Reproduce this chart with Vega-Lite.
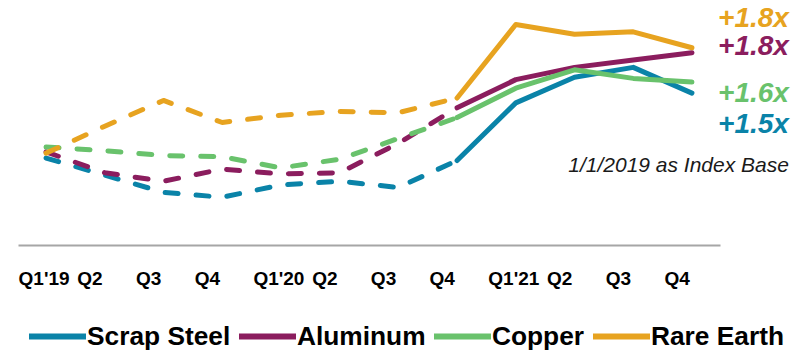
{
  "$schema": "https://vega.github.io/schema/vega-lite/v6.json",
  "width": 702,
  "height": 245,
  "autosize": {"type": "none"},
  "padding": {"left": 18, "top": 0, "right": 88, "bottom": 106},
  "background": "white",
  "config": {"view": {"stroke": null}, "font": "Liberation Sans"},
  "datasets": {
    "idx": [
      {"series": "Scrap Steel", "quarter": "Q1'19", "index": 0.95},
      {"series": "Scrap Steel", "quarter": "Q2'19", "index": 0.81},
      {"series": "Scrap Steel", "quarter": "Q3'19", "index": 0.67},
      {"series": "Scrap Steel", "quarter": "Q4'19", "index": 0.63},
      {"series": "Scrap Steel", "quarter": "Q1'20", "index": 0.73},
      {"series": "Scrap Steel", "quarter": "Q2'20", "index": 0.76},
      {"series": "Scrap Steel", "quarter": "Q3'20", "index": 0.71},
      {"series": "Scrap Steel", "quarter": "Q4'20", "index": 0.93},
      {"series": "Scrap Steel", "quarter": "Q1'21", "index": 1.40},
      {"series": "Scrap Steel", "quarter": "Q2'21", "index": 1.61},
      {"series": "Scrap Steel", "quarter": "Q3'21", "index": 1.69},
      {"series": "Scrap Steel", "quarter": "Q4'21", "index": 1.48},
      {"series": "Aluminum", "quarter": "Q1'19", "index": 1.00},
      {"series": "Aluminum", "quarter": "Q2'19", "index": 0.83},
      {"series": "Aluminum", "quarter": "Q3'19", "index": 0.76},
      {"series": "Aluminum", "quarter": "Q4'19", "index": 0.86},
      {"series": "Aluminum", "quarter": "Q1'20", "index": 0.82},
      {"series": "Aluminum", "quarter": "Q2'20", "index": 0.83},
      {"series": "Aluminum", "quarter": "Q3'20", "index": 1.07},
      {"series": "Aluminum", "quarter": "Q4'20", "index": 1.36},
      {"series": "Aluminum", "quarter": "Q1'21", "index": 1.59},
      {"series": "Aluminum", "quarter": "Q2'21", "index": 1.69},
      {"series": "Aluminum", "quarter": "Q3'21", "index": 1.75},
      {"series": "Aluminum", "quarter": "Q4'21", "index": 1.81},
      {"series": "Copper", "quarter": "Q1'19", "index": 1.04},
      {"series": "Copper", "quarter": "Q2'19", "index": 1.01},
      {"series": "Copper", "quarter": "Q3'19", "index": 0.97},
      {"series": "Copper", "quarter": "Q4'19", "index": 0.96},
      {"series": "Copper", "quarter": "Q1'20", "index": 0.87},
      {"series": "Copper", "quarter": "Q2'20", "index": 0.94},
      {"series": "Copper", "quarter": "Q3'20", "index": 1.11},
      {"series": "Copper", "quarter": "Q4'20", "index": 1.28},
      {"series": "Copper", "quarter": "Q1'21", "index": 1.52},
      {"series": "Copper", "quarter": "Q2'21", "index": 1.67},
      {"series": "Copper", "quarter": "Q3'21", "index": 1.60},
      {"series": "Copper", "quarter": "Q4'21", "index": 1.57},
      {"series": "Rare Earth", "quarter": "Q1'19", "index": 0.99},
      {"series": "Rare Earth", "quarter": "Q2'19", "index": 1.21},
      {"series": "Rare Earth", "quarter": "Q3'19", "index": 1.42},
      {"series": "Rare Earth", "quarter": "Q4'19", "index": 1.24},
      {"series": "Rare Earth", "quarter": "Q1'20", "index": 1.30},
      {"series": "Rare Earth", "quarter": "Q2'20", "index": 1.33},
      {"series": "Rare Earth", "quarter": "Q3'20", "index": 1.32},
      {"series": "Rare Earth", "quarter": "Q4'20", "index": 1.44},
      {"series": "Rare Earth", "quarter": "Q1'21", "index": 2.04},
      {"series": "Rare Earth", "quarter": "Q2'21", "index": 1.96},
      {"series": "Rare Earth", "quarter": "Q3'21", "index": 1.98},
      {"series": "Rare Earth", "quarter": "Q4'21", "index": 1.85}
    ]
  },
  "data": {"name": "idx"},
  "encoding": {
    "x": {
      "field": "quarter",
      "type": "ordinal",
      "scale": {
        "type": "point",
        "padding": 0.478,
        "domain": ["Q1'19", "Q2'19", "Q3'19", "Q4'19", "Q1'20", "Q2'20", "Q3'20", "Q4'20", "Q1'21", "Q2'21", "Q3'21", "Q4'21"]
      },
      "axis": {
        "title": null,
        "grid": false,
        "ticks": false,
        "tickSize": 0,
        "domainColor": "#A6A6A6",
        "domainWidth": 2,
        "labelExpr": "indexof(datum.label, 'Q1') == 0 ? datum.label : slice(datum.label, 0, 2)",
        "labelFont": "Liberation Sans",
        "labelFontWeight": "bold",
        "labelFontSize": 19,
        "labelColor": "#000000",
        "labelAlign": "left",
        "labelBaseline": "alphabetic",
        "labelPadding": 39,
        "labelOffset": -28,
        "labelAngle": 0,
        "labelOverlap": false,
        "labelBound": false,
        "labelFlush": false
      }
    },
    "y": {
      "field": "index",
      "type": "quantitative",
      "scale": {"domain": [0.24, 2.24], "nice": false, "zero": false},
      "axis": null
    }
  },
  "layer": [
    {
      "transform": [{"filter": {"field": "quarter", "oneOf": ["Q1'19", "Q2'19", "Q3'19", "Q4'19", "Q1'20", "Q2'20", "Q3'20", "Q4'20"]}}],
      "mark": {"type": "line", "strokeWidth": 5, "strokeDash": [13, 18], "strokeCap": "round", "strokeJoin": "round"},
      "encoding": {
        "color": {
          "field": "series",
          "type": "nominal",
          "scale": {
            "domain": ["Scrap Steel", "Aluminum", "Copper", "Rare Earth"],
            "range": ["#0A83A8", "#8B1D5E", "#69C26C", "#E7A320"]
          },
          "legend": {
            "title": null,
            "orient": "bottom",
            "direction": "horizontal",
            "offset": 9,
            "padding": 8,
            "symbolType": "stroke",
            "symbolSize": 3249,
            "symbolStrokeWidth": 6,
            "symbolDash": [],
            "labelFont": "Liberation Sans",
            "labelFontWeight": "bold",
            "labelFontSize": 26.3,
            "labelColor": "#000000",
            "labelOffset": -2,
            "labelLimit": 300,
            "columnPadding": -4
          }
        }
      }
    },
    {
      "transform": [{"filter": {"field": "quarter", "oneOf": ["Q4'20", "Q1'21", "Q2'21", "Q3'21", "Q4'21"]}}],
      "mark": {"type": "line", "strokeWidth": 5, "strokeCap": "round", "strokeJoin": "round"},
      "encoding": {
        "color": {
          "field": "series",
          "type": "nominal",
          "scale": {
            "domain": ["Scrap Steel", "Aluminum", "Copper", "Rare Earth"],
            "range": ["#0A83A8", "#8B1D5E", "#69C26C", "#E7A320"]
          }
        }
      }
    },
    {
      "transform": [{"filter": "datum.series == 'Rare Earth' && datum.quarter == \"Q4'21\""}],
      "mark": {"type": "text", "text": "+1.8x", "align": "right", "baseline": "alphabetic", "dx": 97, "font": "Liberation Sans", "fontSize": 28, "fontWeight": "bold", "fontStyle": "italic", "fill": "#E7A320"},
      "encoding": {"y": {"datum": 2.02}}
    },
    {
      "transform": [{"filter": "datum.series == 'Aluminum' && datum.quarter == \"Q4'21\""}],
      "mark": {"type": "text", "text": "+1.8x", "align": "right", "baseline": "alphabetic", "dx": 97, "font": "Liberation Sans", "fontSize": 28, "fontWeight": "bold", "fontStyle": "italic", "fill": "#8B1D5E"},
      "encoding": {"y": {"datum": 1.79}}
    },
    {
      "transform": [{"filter": "datum.series == 'Copper' && datum.quarter == \"Q4'21\""}],
      "mark": {"type": "text", "text": "+1.6x", "align": "right", "baseline": "alphabetic", "dx": 97, "font": "Liberation Sans", "fontSize": 28, "fontWeight": "bold", "fontStyle": "italic", "fill": "#69C26C"},
      "encoding": {"y": {"datum": 1.407}}
    },
    {
      "transform": [{"filter": "datum.series == 'Scrap Steel' && datum.quarter == \"Q4'21\""}],
      "mark": {"type": "text", "text": "+1.5x", "align": "right", "baseline": "alphabetic", "dx": 97, "font": "Liberation Sans", "fontSize": 28, "fontWeight": "bold", "fontStyle": "italic", "fill": "#0A83A8"},
      "encoding": {"y": {"datum": 1.154}}
    },
    {
      "transform": [{"filter": "datum.series == 'Scrap Steel' && datum.quarter == \"Q4'21\""}],
      "mark": {"type": "text", "text": "1/1/2019 as Index Base", "align": "right", "baseline": "alphabetic", "dx": 97, "font": "Liberation Sans", "fontSize": 21, "fontStyle": "italic", "fill": "#1A1A1A"},
      "encoding": {"y": {"datum": 0.836}}
    }
  ]
}
